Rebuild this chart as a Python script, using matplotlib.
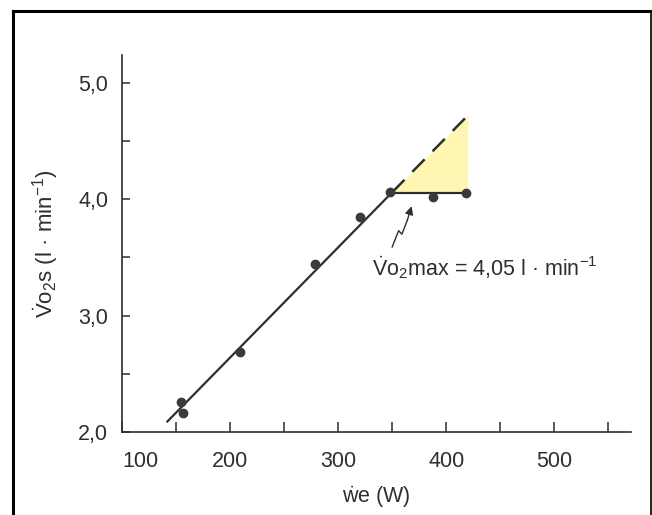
import numpy as np
import matplotlib
matplotlib.use("Agg")
from matplotlib import pyplot as plt
from matplotlib.lines import Line2D

plt.rcParams['font.family'] = ['Liberation Sans', 'DejaVu Sans']
plt.rcParams['mathtext.fontset'] = 'custom'
plt.rcParams['mathtext.rm'] = 'Liberation Sans'
plt.rcParams['mathtext.it'] = 'Liberation Sans'

# measured points (W, l/min)
watts = [155, 156, 209, 279, 320, 348, 388, 418]
vo2 = [2.26, 2.16, 2.69, 3.44, 3.85, 4.06, 4.02, 4.05]

# regression line and plateau
fit_x = [142, 350]
fit_y = [2.09, 4.06]
dash_x = [350, 420]
dash_y = [4.06, 4.72]
plateau_x = [350, 420]
plateau_y = [4.05, 4.05]

xtick_vals = [100, 150, 200, 250, 300, 350, 400, 450, 500, 550]
xtick_labels = ["100", "", "200", "", "300", "", "400", "", "500", ""]
ytick_labels = ["2,0", "3,0", "4,0", "5,0"]

ink = "#2e2e2e"

fig = plt.figure(figsize=(6.52, 5.15), dpi=100)
ax = fig.add_axes([0.1871, 0.1612, 0.7807, 0.732])

ax.fill_between(dash_x, plateau_y, dash_y, color="#fff6b4", lw=0, zorder=1)
ax.plot(fit_x, fit_y, color=ink, lw=1.6, zorder=3)
ax.plot(dash_x, dash_y, color=ink, lw=1.8, dashes=(7, 4.5), zorder=3)
ax.plot(plateau_x, plateau_y, color=ink, lw=1.6, zorder=3)
ax.plot(watts, vo2, 'o', color="#3a3a3a", ms=6, zorder=4)

# zigzag arrow to the plateau
zx = [350, 356, 359, 364]
zy = [3.59, 3.73, 3.70, 3.82]
ax.plot(zx, zy, color=ink, lw=1.0)
ax.annotate("", xy=(368, 3.94), xytext=(zx[-1], zy[-1]),
            arrowprops=dict(arrowstyle="-|>", color=ink, lw=1.0,
                            mutation_scale=12, shrinkA=0, shrinkB=0))

ax.text(331, 3.41, r"$\dot{\mathrm{V}}\mathrm{o}_2\mathrm{max}$ = 4,05 l · min$^{-1}$",
        fontsize=15.5, color=ink, ha='left', va='center')

ax.set_xlim(100, 571)
ax.set_ylim(2.0, 5.24)
ax.set_xticks(xtick_vals)
ax.set_xticklabels(xtick_labels)
ax.set_yticks([2, 3, 4, 5])
ax.set_yticklabels(ytick_labels)
ax.set_yticks([2.5, 3.5, 4.5], minor=True)

ax.tick_params(axis='x', direction='in', length=7, width=1.1, color=ink,
               pad=14, labelsize=15.5, labelcolor=ink)
ax.tick_params(axis='y', which='both', direction='in', length=6, width=1.1, color=ink,
               pad=10, labelsize=15.5, labelcolor=ink)
ax.get_xticklabels()[0].set_ha('left')

for s in ['top', 'right']:
    ax.spines[s].set_visible(False)
for s in ['left', 'bottom']:
    ax.spines[s].set_color(ink)
    ax.spines[s].set_linewidth(1.2)

ax.set_xlabel(r"$\dot{\mathrm{w}}$e (W)", fontsize=15.5, color=ink, labelpad=9)
ax.set_ylabel(r"$\dot{\mathrm{V}}\mathrm{o}_2$s (l · min$^{-1}$)", fontsize=16,
              color=ink, labelpad=12)

# picture frame
fig.add_artist(Line2D([13 / 652, 1], [1 - 11 / 515] * 2, color='black', lw=2.2,
                      transform=fig.transFigure))
fig.add_artist(Line2D([13 / 652] * 2, [0, 1 - 11 / 515], color='black', lw=2.2,
                      transform=fig.transFigure))
fig.add_artist(Line2D([650.5 / 652] * 2, [0, 1 - 11 / 515], color='black', lw=1.2,
                      transform=fig.transFigure))

fig.savefig("out.png", dpi=100)
